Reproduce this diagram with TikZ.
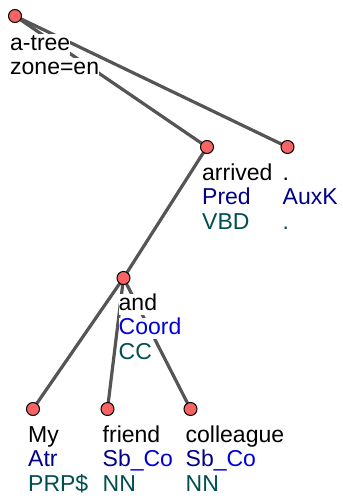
\documentclass[tikz,border=0pt]{standalone}
\usepackage{fontspec}
\setmainfont{Liberation Sans}
\definecolor{edgegray}{HTML}{555555}
\definecolor{nodefill}{HTML}{F86464}
\definecolor{funcblue}{HTML}{00008B}
\definecolor{coordblue}{HTML}{0000DD}
\definecolor{tagteal}{HTML}{004F50}
\tikzset{
  treenode/.style={circle,draw=black,line width=1pt,fill=nodefill,minimum size=13pt,inner sep=0pt},
  treeedge/.style={draw=edgegray,line width=3.2pt},
  txt/.style={anchor=base west,fill=white,inner sep=0pt,text height=16.5pt,text depth=4.5pt,
    font=\fontsize{23}{24.5}\selectfont},
}
\begin{document}
\begin{tikzpicture}[x=1pt,y=-1pt]
\useasboundingbox (0,0) rectangle (343,499);
% tree nodes (positions)
\coordinate (root) at (15,16);
\coordinate (arrived) at (207,147);
\coordinate (dot) at (287.5,147);
\coordinate (and) at (123.5,278);
\coordinate (my) at (33,409);
\coordinate (friend) at (107.5,409);
\coordinate (colleague) at (190.5,409);
% edges
\draw[treeedge] (root) -- (arrived);
\draw[treeedge] (root) -- (dot);
\draw[treeedge] (arrived) -- (and);
\draw[treeedge] (and) -- (my);
\draw[treeedge] (and) -- (friend);
\draw[treeedge] (and) -- (colleague);
% labels
\node[txt] (rootA) at (10,50) {a-tree};
\node[txt] (rootB) at (10,74.5) {zone=en};
\node[txt] (arrA) at (202,180) {arrived};
\node[txt,text=funcblue] (arrB) at (202,204.5) {Pred};
\node[txt,text=tagteal] (arrC) at (202,229) {VBD};
\node[txt] (dotA) at (282.5,180) {.};
\node[txt,text=funcblue] (dotB) at (282.5,204.5) {AuxK};
\node[txt,text=tagteal] (dotC) at (282.5,229) {.};
\node[txt] (andA) at (118.5,310) {and};
\node[txt,text=coordblue] (andB) at (118.5,334.5) {Coord};
\node[txt,text=tagteal] (andC) at (118.5,359) {CC};
\node[txt] (myA) at (28,442) {My};
\node[txt,text=funcblue] (myB) at (28,466.5) {Atr};
\node[txt,text=tagteal] (myC) at (28,491) {PRP\$};
\node[txt] (frA) at (102.5,442) {friend};
\node[txt] (frB) at (102.5,466.5) {\textcolor{funcblue}{Sb}\textcolor{coordblue}{\_Co}};
\node[txt,text=tagteal] (frC) at (102.5,491) {NN};
\node[txt] (coA) at (185.5,442) {colleague};
\node[txt] (coB) at (185.5,466.5) {\textcolor{funcblue}{Sb}\textcolor{coordblue}{\_Co}};
\node[txt,text=tagteal] (coC) at (185.5,491) {NN};
% circles on top
\foreach \n in {root,arrived,dot,and,my,friend,colleague}
  \node[treenode] (\n-c) at (\n) {};
\end{tikzpicture}
\end{document}
